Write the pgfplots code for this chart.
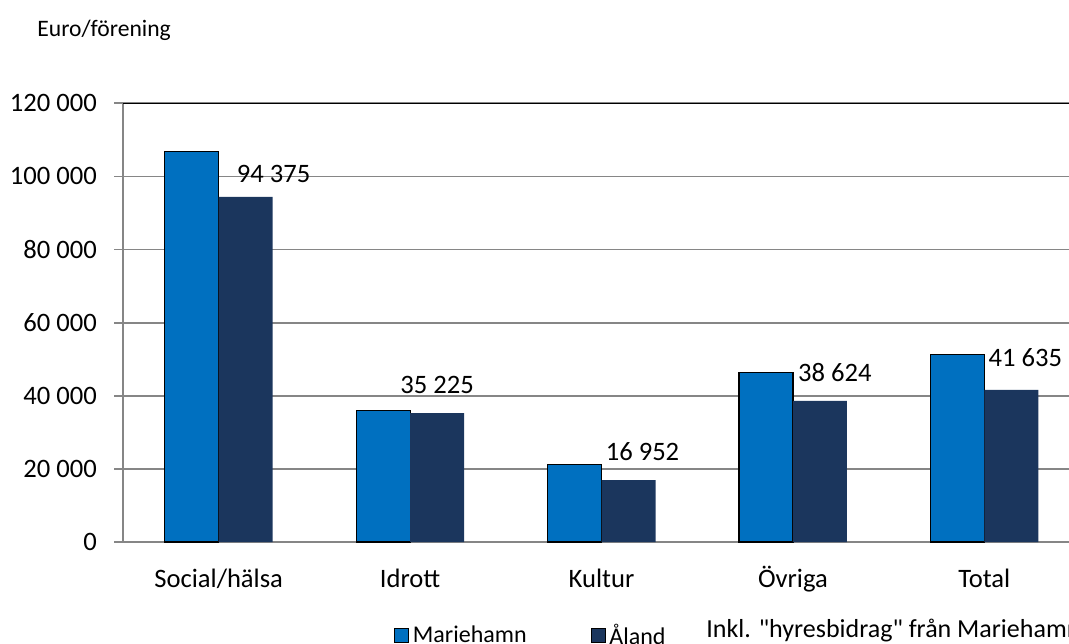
\documentclass[border=0pt]{standalone}
\usepackage{pgfplots}
\pgfplotsset{compat=1.18}
\usepackage{pgfplotstable}
\usepackage{fontspec}
\setmainfont{Carlito}

\definecolor{mhamn}{RGB}{0,112,192}
\definecolor{aland}{RGB}{27,54,93}
\definecolor{gridgray}{RGB}{134,134,134}

% values (Mariehamn estimated, Åland labelled)
\pgfplotstableread[col sep=comma]{
x,y
0,106800
1,35900
2,21300
3,46300
4,51300
}\mariehamn

% dx, dy: hand placement of the value labels (pt)
\pgfplotstableread[col sep=comma]{
x,y,dx,dy,lab
0,94375,14,11.5,94\ 375
1,35225,0,14,35\ 225
2,16952,7,14,16\ 952
3,38624,7.5,14,38\ 624
4,41635,7,16,41\ 635
}\aland

\begin{document}
\fontsize{13.3}{16}\selectfont
\begin{tikzpicture}
\useasboundingbox (0,0) rectangle (534.5pt,321.5pt);
\node[anchor=west, inner sep=0pt, font=\fontsize{11.8}{14}\selectfont]
    at (18.5pt,306.5pt) {Euro/förening};
\begin{axis}[
    at={(61.5pt,50.5pt)}, anchor=south west,
    scale only axis,
    width=478.5pt, height=219.35pt,
    ybar=0pt, bar width=27pt,
    xmin=-0.5, xmax=4.5,
    ymin=0, ymax=120000,
    scaled y ticks=false,
    ytick={0,20000,...,120000},
    yticklabels={0,20\ 000,40\ 000,60\ 000,80\ 000,100\ 000,120\ 000},
    xtick=data,
    xticklabels={Social/hälsa, Idrott, Kultur, Övriga, Total},
    axis x line*=bottom, axis y line*=left,
    axis line style={gridgray, line width=0.9pt, -},
    ymajorgrids,
    grid style={gridgray, line width=0.9pt},
    tick align=outside,
    major tick length=4.5pt,
    xtick style={draw=none},
    ytick style={gridgray, line width=0.9pt},
    yticklabel style={xshift=-4pt},
    xticklabel style={yshift=-4pt, text height=9.5pt, text depth=3pt},
    legend style={at={(0.427,-0.214)}, anchor=center, legend columns=2,
        draw=none, fill=none, font=\fontsize{12}{14}\selectfont,
        /tikz/every even column/.append style={column sep=30pt}},
    legend image code/.code={\draw[#1] (0pt,-3.5pt) rectangle (7pt,3.5pt);},
]
\addplot[fill=mhamn, draw=black, line width=0.6pt] table[x=x, y=y] {\mariehamn};
\addlegendentry{Mariehamn}
\addplot[fill=aland, draw=none,
    visualization depends on={\thisrow{dx} \as \dx},
    visualization depends on={\thisrow{dy} \as \dy},
    point meta=explicit symbolic,
    nodes near coords,
    every node near coord/.append style={anchor=center, black,
        xshift=\dx pt, yshift=\dy pt},
] table[x=x, y=y, meta=lab] {\aland};
\addlegendentry{Åland}
\draw[black, line width=1pt] (rel axis cs:0,1) -- (rel axis cs:1,1);
\end{axis}
\node[anchor=west, inner sep=0pt, font=\fontsize{13}{15}\selectfont]
    at (353pt,6pt) {Inkl. \textquotedbl hyresbidrag\textquotedbl\ från Mariehamn};
\end{tikzpicture}
\end{document}
